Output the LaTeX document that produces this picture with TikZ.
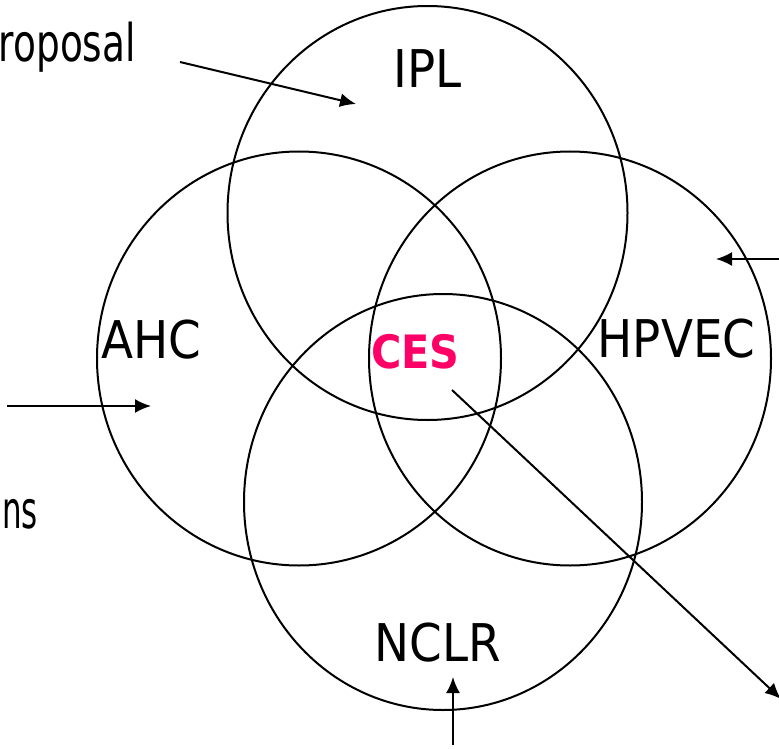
\documentclass[tikz,border=0pt]{standalone}
\usepackage{fontspec}
\setmainfont{DejaVu Sans Condensed}
\usetikzlibrary{arrows.meta}
\definecolor{cespink}{RGB}{255,0,102}
\tikzset{
  venn/.style={draw=black, line width=2pt},
  lbl/.style={inner sep=0pt, anchor=base, font=\fontsize{52}{60}\selectfont},
  ptr/.style={draw=black, line width=2pt, -{Latex[length=16pt,width=14pt]}}
}
\begin{document}
\begin{tikzpicture}[x=1pt,y=-1pt]
\useasboundingbox (0,0) rectangle (779,749);
% circles
\draw[venn] (427.5,213) ellipse [x radius=200, y radius=207];
\draw[venn] (299,358.5) ellipse [x radius=202, y radius=207];
\draw[venn] (570,358.5) ellipse [x radius=201, y radius=207];
\draw[venn] (443,502) ellipse [x radius=199, y radius=208];
% labels
\node[lbl] (ipl) at (427.5,88) {IPL};
\node[lbl] (ahc) at (151.5,358) {AHC};
\node[lbl] (hpvec) at (676.5,357) {HPVEC};
\node[lbl] (nclr) at (438,661) {NCLR};
\node[lbl, font=\fontsize{46}{54}\selectfont\bfseries, text=cespink] (ces) at (415.5,368) {CES};
\node[lbl, anchor=base east] (prop) at (136,62) {\scalebox{0.8}[1]{roposal}};
\node[lbl, anchor=base east] (ns) at (38,528) {\scalebox{0.66}[1]{ns}};
% arrow endpoints
\coordinate (a1s) at (180,62);
\coordinate (a1e) at (356,104);
\coordinate (a2s) at (779,259);
\coordinate (a2e) at (716,259);
\coordinate (a3s) at (7,406);
\coordinate (a3e) at (151,406);
\coordinate (a4s) at (452,390);
\coordinate (a4e) at (781,699);
\coordinate (a5s) at (453,745);
\coordinate (a5e) at (453,677);
\draw[ptr] (a1s) -- (a1e);
\draw[ptr] (a2s) -- (a2e);
\draw[ptr] (a3s) -- (a3e);
\draw[ptr] (a4s) -- (a4e);
\draw[ptr] (a5s) -- (a5e);
\end{tikzpicture}
\end{document}
